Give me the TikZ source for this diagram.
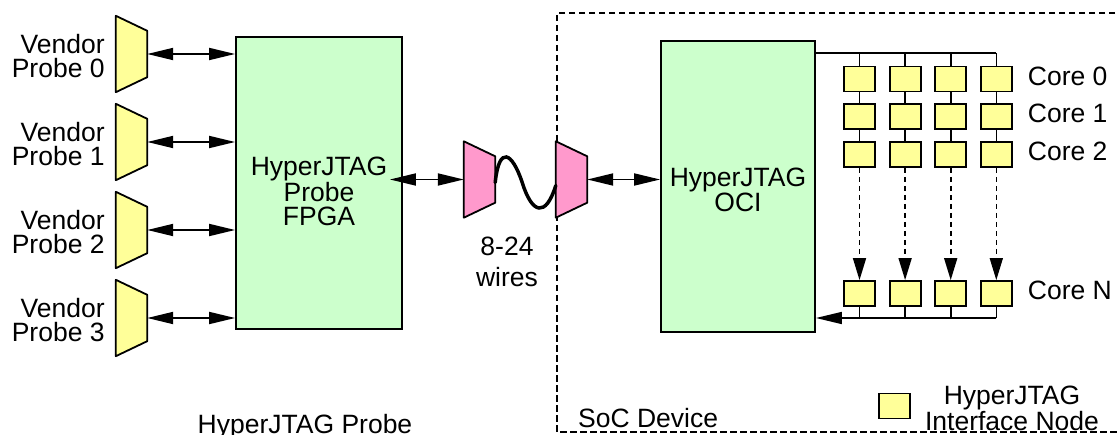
\documentclass[tikz,border=0pt]{standalone}
\usepackage{fontspec}
\setmainfont{Liberation Sans}
\usetikzlibrary{arrows.meta,positioning}
\definecolor{probeyellow}{HTML}{FFFF99}
\definecolor{fpgagreen}{HTML}{CCFFCC}
\definecolor{cablepink}{HTML}{FF99CC}
\begin{document}
\begin{tikzpicture}[
  x=1pt,y=-1pt,>={Triangle[length=26pt,width=12pt]},
  font=\fontsize{26.5}{24}\selectfont,
  port/.style={minimum width=31pt,minimum height=76pt,inner sep=0pt},
  adapter/.style={draw,line width=1.8pt,line join=round},
  chip/.style={draw,line width=1.8pt,fill=fpgagreen},
  inode/.style={draw,line width=1.8pt,fill=probeyellow,minimum width=31pt,minimum height=25pt,inner sep=0pt},
  lbl/.style={inner sep=0pt,align=center},
  link/.style={<->,line width=1.8pt},
  wire/.style={line width=1.6pt},
  hop/.style={->,line width=1.6pt,dash pattern=on 5pt off 4pt,>={Triangle[length=22pt,width=13pt]}}
]
\useasboundingbox (0,0) rectangle (1118,435);
% SoC boundary, its right side runs off the page
\draw[line width=1.8pt,dash pattern=on 6.5pt off 3.5pt] (1125,13) -- (557,13) -- (557,432) -- (1125,432);

\node[chip,minimum width=166pt,minimum height=292pt] (fpga) at (319,183) {};
\node[lbl,anchor=north] (fpgatext) at (fpga.center |- 0,157) {HyperJTAG\\Probe\\FPGA};
\node[chip,minimum width=154pt,minimum height=291pt] (oci) at (738,186.5) {};
\node[lbl,anchor=north] (ocitext) at (oci.center |- 0,168) {HyperJTAG\\OCI};

% vendor probes
\foreach \i in {0,...,3}{
  \node[port] (vp\i) at (131.5,54+88*\i) {};
  \draw[adapter,fill=probeyellow] (vp\i.north west) -- ([yshift=-15pt]vp\i.north east) -- ([yshift=15pt]vp\i.south east) -- (vp\i.south west) -- cycle;
  \node[lbl,align=right,left=11pt of vp\i,yshift=-2pt] (vl\i) {Vendor\\Probe \i};
  \draw[link] (vp\i.east) -- (vp\i.east -| fpga.west);
}

% cable
\node[port] (lpink) at (479.5,179.5) {};
\node[port] (rpink) at (571.5,179.5) {};
\foreach \p in {lpink,rpink}
  \draw[adapter,fill=cablepink] (\p.north west) -- ([yshift=-15pt]\p.north east) -- ([yshift=15pt]\p.south east) -- (\p.south west) -- cycle;
\draw[link,shorten <=-13pt] (lpink.west -| fpga.east) -- (lpink.west);
\draw[link] (rpink.east) -- (rpink.east -| oci.west);
\draw[line width=3.5pt,line cap=round] ([yshift=-3pt]lpink.east) .. controls +(4,-38) and +(-10,-30) .. +(27,0) .. controls +(10,32) and +(-10,32) .. ([yshift=-6pt]rpink.west);
\node[lbl,font=\fontsize{26.5}{31}\selectfont] (wires) at (507,262) {8-24\\wires};

% interface nodes
\coordinate (topbus) at (0,53);
\coordinate (botbus) at (0,318);
\foreach \col in {0,...,3}{
  \foreach \r/\ypos in {0/79,1/116.5,2/154.5,N/293.5}
    \node[inode] (n\col\r) at (859.5+45.6*\col,\ypos) {};
  \draw[wire] (n\col0.north) -- (n\col0.north |- topbus);
  \draw[wire] (n\col0.south) -- (n\col1.north);
  \draw[wire] (n\col1.south) -- (n\col2.north);
  \draw[hop] (n\col2.south) -- (n\col N.north);
  \draw[wire] (n\col N.south) -- (n\col N.south |- botbus);
}
\draw[wire] (oci.east |- topbus) -- (n30.north |- topbus);
\draw[wire,->] (n3N.south |- botbus) -- (oci.east |- botbus);
\foreach \r in {0,1,2,N}
  \node[lbl,right=15pt of n3\r,yshift=3pt] (core\r) {Core \r};

% legend and captions
\node[inode] (key) at (894.5,406) {};
\node[lbl] (keytext) at (1012,408.5) {HyperJTAG\\Interface Node};
\node[lbl,anchor=base] (probecap) at (305,433) {HyperJTAG Probe};
\node[lbl,anchor=base west] (soccap) at (578,427) {SoC Device};
\end{tikzpicture}
\end{document}
